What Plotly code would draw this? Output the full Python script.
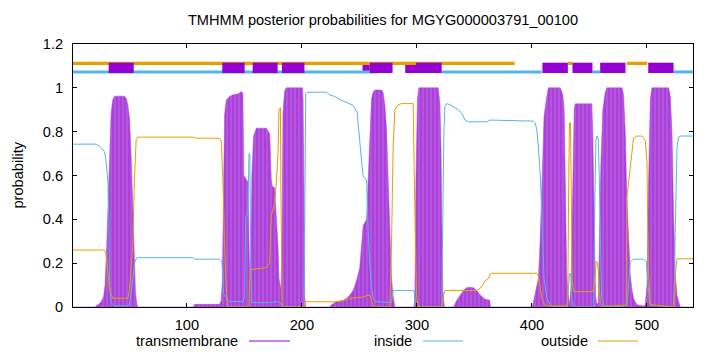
import plotly.graph_objects as go

# ---------------- data ----------------
title_text = "TMHMM posterior probabilities for MGYG000003791_00100"
seq_len = 540

tm_x = [1, 20, 22, 25, 27.5, 28.9, 30.6, 32.1, 33.2, 34.1, 35.6, 37, 45.7, 47.2, 48.6, 50.1, 51.5, 52.9, 54.1, 55.3, 56.5, 57.5,
        105.5, 106.7, 128.4, 129.9, 130.8, 131.3, 131.9, 132.8, 134.3, 137.1, 140, 144.4, 147.3, 148.7, 149.5, 153.1, 154.0, 154.7,
        155.5, 156.5, 158, 160.4, 169.1, 172, 173.4, 174.3, 176.3, 177.8, 179.2, 180.1, 181.8, 182.7, 183.5, 185, 186.5, 200.4,
        201, 201.9, 202.4, 203.3,
        224.2, 225.7, 230, 235.8, 240.2, 244.5, 247.5, 250.3, 253.2, 256.2, 259, 260.5, 261.9, 263.4, 269.2, 270.6, 272.1, 273.6,
        275, 276.4, 277.9, 279.3, 280.8,
        297.5, 298.2, 299.1, 300.5, 301.7, 318.5, 320, 321, 321.6, 322.5, 323.8,
        331.7, 334.6, 337.5, 340.4, 343.3, 346.2, 349.1, 352, 354.9, 359.3, 363.1, 364,
        400.3, 402.4, 405.6, 407.1, 408.5, 409.4, 410.5, 412.9, 414.3, 424.5, 426.8, 428, 428.9, 430.3, 431.7, 432.8, 434, 434.7,
        435.6, 436.7, 437.6, 452.1, 453, 454.2, 455.3, 456.5, 457.6, 458.8, 459.9, 461.6, 463.7, 465.1, 478.2, 479.6, 481.1,
        482.5, 484, 485.4, 486.9, 488.3, 491.2, 497, 498.5, 500, 501.4, 502.9, 504.3, 518.8, 520.3, 521.7, 523.2, 524.6, 526.1,
        527.5, 529, 540]
tm_y = [0, 0, 0.008, 0.02, 0.045, 0.1, 0.32, 0.58, 0.76, 0.885, 0.946, 0.962, 0.962, 0.953, 0.925, 0.86, 0.7, 0.45, 0.2, 0.07, 0.01, 0,
        0, 0.012, 0.012, 0.03, 0.12, 0.3, 0.58, 0.88, 0.945, 0.96, 0.968, 0.972, 0.983, 0.975, 0.6, 0.57, 0.3, 0.13,
        0.25, 0.6, 0.78, 0.816, 0.816, 0.79, 0.58, 0.55, 0.545, 0.41, 0.28, 0.13, 0.08, 0.3, 0.885, 0.985, 1.0, 1.0,
        0.95, 0.5, 0.05, 0,
        0, 0.01, 0.025, 0.03, 0.045, 0.075, 0.12, 0.18, 0.37, 0.40, 0.73, 0.95, 0.98, 0.99, 0.99, 0.98, 0.92, 0.81,
        0.58, 0.3, 0.13, 0.05, 0,
        0, 0.05, 0.58, 0.95, 1.0, 1.0, 0.93, 0.7, 0.4, 0.08, 0,
        0, 0.03, 0.055, 0.075, 0.088, 0.09, 0.088, 0.075, 0.055, 0.035, 0.032, 0,
        0, 0.05, 0.13, 0.3, 0.53, 0.7, 0.87, 0.96, 1.0, 1.0, 0.97, 0.9, 0.58, 0.13, 0.05, 0.01, 0.1, 0.3,
        0.7, 0.9, 0.927, 0.927, 0.75, 0.3, 0.05, 0.01, 0.02, 0.35, 0.65, 0.9, 0.98, 1.0, 1.0, 0.97, 0.8,
        0.5, 0.3, 0.15, 0.08, 0.04, 0.01, 0.005, 0.01, 0.1, 0.58, 0.95, 1.0, 1.0, 0.96, 0.8, 0.4, 0.15, 0.05,
        0.025, 0, 0]

inside_x = [1, 21, 24, 28.3, 29.7, 31.2, 32.1, 32.7, 34.1, 37, 50, 51.5, 52.9, 54.4, 56.4, 105.2, 106.7, 128.4, 130.3, 131.3,
            131.9, 134.3, 137, 147.3, 148.7, 150.2, 151.1, 153.1, 154.0, 154.7, 155.5, 156.5, 172, 179.2, 181, 183, 201.9,
            203.3, 205, 221.3, 224.2, 228.6, 231.5, 235.8, 240.2, 244.5, 248, 248.9, 250.3, 251.8, 253.2, 254.7, 256.2,
            256.7, 257.6, 259, 260.5, 262, 263.4, 277.9, 279.3, 280.8, 297.3, 298.5, 299.7, 321.5, 322.3, 323.5, 324.3,
            325.8, 328.8, 331.7, 336, 338.9, 340.4, 341.8, 344.7, 360.7, 363.6, 401.3, 402.7, 404.2, 405.6, 407.1, 408.5,
            409.4, 410.5, 412.9, 415.8, 418, 430.3, 431.7, 432.6, 433.8, 434.7, 436.2, 453.6, 454.7, 455.6, 456.5, 457.6,
            458.5, 459.4, 460.5, 462.3, 482.5, 484, 485.4, 488.3, 497, 499.4, 500.5, 502.3, 523.2, 524.6, 526.1, 527.5,
            529, 540]
inside_y = [0.743, 0.743, 0.735, 0.709, 0.67, 0.58, 0.43, 0.12, 0.02, 0.005, 0.005, 0.06, 0.12, 0.2, 0.225, 0.225, 0.218, 0.218, 0.21, 0.15,
            0.06, 0.04, 0.025, 0.025, 0.02, 0.05, 0.41, 0.43, 0.7, 0.7, 0.2, 0.02, 0.02, 0.025, 0.02, 0, 0,
            0.976, 0.98, 0.98, 0.968, 0.96, 0.95, 0.94, 0.93, 0.92, 0.89, 0.83, 0.73, 0.67, 0.6, 0.585, 0.58,
            0.475, 0.35, 0.2, 0.09, 0.04, 0.025, 0.02, 0.075, 0.075, 0.075, 0.03, 0, 0, 0.43, 0.81, 0.915,
            0.928, 0.923, 0.913, 0.9, 0.885, 0.87, 0.853, 0.845, 0.845, 0.853, 0.848, 0.84, 0.81, 0.73, 0.61, 0.43,
            0.28, 0.13, 0.04, 0.01, 0, 0, 0.08, 0.154, 0.15, 0.03, 0, 0, 0.5, 0.76, 0.78, 0.77,
            0.6, 0.3, 0.05, 0.005, 0, 0.1, 0.207, 0.218, 0.218, 0.207, 0.13, 0.01, 0, 0.43, 0.73, 0.776,
            0.78, 0.78]

outside_x = [1, 28.3, 29.7, 31.2, 32.7, 35.6, 48.6, 50.1, 52.9, 54.4, 55.9, 57.3, 105.2, 108.1, 128.4, 129.9, 131.3, 132.8,
             134.3, 135.7, 154.0, 154.5, 155.1, 169, 172, 173.4, 176.3, 177.8, 179.2, 180.1, 181.3, 181.8, 182.7, 183.5,
             201.9, 202.6, 230, 237.3, 241.6, 253.2, 257.6, 259.6, 261.3, 262.5, 276.4, 277.9, 279.3, 280.8, 283.7, 286.6,
             296.7, 298.2, 299.7, 301.1, 321.5, 323, 324.3, 352, 354.9, 357.8, 359.3, 362.2, 363.6, 365.1, 404.2, 405.6,
             407.1, 408.5, 411.5, 431.1, 432, 432.6, 433.5, 434.1, 435, 436.2, 453.1, 455.1, 455.9, 457.1, 458.2, 459.4,
             461, 481.9, 482.5, 485.4, 488.3, 491.2, 495.6, 498.5, 500, 500.5, 501.4, 502.9, 523.2, 524.6, 526.1, 540]
outside_y = [0.26, 0.26, 0.245, 0.154, 0.08, 0.04, 0.04, 0.08, 0.275, 0.58, 0.763, 0.775, 0.775, 0.77, 0.77, 0.757, 0.58, 0.275,
             0.06, 0, 0, 0.1, 0.17, 0.18, 0.2, 0.42, 0.47, 0.57, 0.7, 0.9, 0.91, 0.5, 0.02, 0,
             0, 0.024, 0.024, 0.03, 0.04, 0.045, 0.055, 0.05, 0.01, 0, 0, 0.28, 0.73, 0.9, 0.923, 0.928,
             0.928, 0.43, 0.05, 0, 0, 0.05, 0.075, 0.075, 0.085, 0.106, 0.12, 0.13, 0.15, 0.154, 0.154, 0.14,
             0.09, 0.04, 0.005, 0.005, 0.6, 0.84, 0.84, 0.5, 0.12, 0.07, 0.07, 0.15, 0.21, 0.2, 0.08, 0.02,
             0, 0.01, 0.5, 0.64, 0.77, 0.78, 0.78, 0.76, 0.66, 0.43, 0.15, 0.01, 0, 0.15, 0.22, 0.22]

# predicted topology segments (start, end) drawn in the top band
tm_segments_under = [(252.7, 259.0), (289.8, 299.2)]
tm_segments = [(32.0, 53.8), (130.8, 150.2), (157.2, 178.9), (182.7, 202.2), (259.0, 278.8), (299.2, 321.5),
               (409.1, 431.2), (435.2, 452.6), (459.3, 481.3), (501.1, 523.1)]
inside_segments = [(1, 265), (321.5, 408.5), (452.6, 459.3), (523.1, 540)]
outside_segments = [(1, 385), (431.2, 435.2), (482.5, 500)]

y_ticks = [0, 0.2, 0.4, 0.6, 0.8, 1.0, 1.2]
y_tick_text = ["0", "0.2", "0.4", "0.6", "0.8", "1", "1.2"]
x_ticks = [100, 200, 300, 400, 500]
legend_names = ["transmembrane", "inside", "outside"]

# ---------------- styling ----------------
C_TM = "#9400d3"
C_TM_FILL = "#ab40db"
C_IN = "#56b4e9"
C_OUT = "#e69f00"
FONT = "Liberation Sans"
FS = 14.6

fig = go.Figure()
fig.add_trace(go.Scatter(x=tm_x, y=tm_y, mode="lines", line=dict(color=C_TM_FILL, width=0.5),
                         fill="tozeroy", fillcolor=C_TM_FILL,
                         fillpattern=dict(shape="|", bgcolor=C_TM_FILL, fgcolor="#c884ea", size=4, solidity=0.3),
                         name="transmembrane"))
fig.add_trace(go.Scatter(x=inside_x, y=inside_y, mode="lines", line=dict(color=C_IN, width=1), name="inside"))
fig.add_trace(go.Scatter(x=outside_x, y=outside_y, mode="lines", line=dict(color=C_OUT, width=1), name="outside"))

shapes = []
for a, b in tm_segments_under:
    shapes.append(dict(type="rect", xref="x", yref="y", x0=a, x1=b, y0=1.0676, y1=1.1147,
                       fillcolor=C_TM, line=dict(width=0)))
for a, b in inside_segments:
    shapes.append(dict(type="rect", xref="x", yref="y", x0=a, x1=b, y0=1.0658, y1=1.0795,
                       fillcolor=C_IN, line=dict(width=0)))
for a, b in outside_segments:
    shapes.append(dict(type="rect", xref="x", yref="y", x0=a, x1=b, y0=1.1042, y1=1.1192,
                       fillcolor=C_OUT, line=dict(width=0)))
for a, b in tm_segments:
    shapes.append(dict(type="rect", xref="x", yref="y", x0=a, x1=b, y0=1.0676, y1=1.1147,
                       fillcolor=C_TM, line=dict(width=0)))

# manual gnuplot-style key (text, then sample line)
W_PLOT = 620.0
def px(v):
    return (v - 73) / W_PLOT

key_text_right = [240, 414, 590]
key_line = [(249, 290), (423, 463), (598, 638)]
key_colors = [C_TM, C_IN, C_OUT]
key_y = (307 - 341) / 263.0
annotations = []
for name, xr, (l0, l1), col in zip(legend_names, key_text_right, key_line, key_colors):
    annotations.append(dict(text=name, x=px(xr), y=key_y, xref="paper", yref="paper",
                            xanchor="right", yanchor="middle", showarrow=False,
                            font=dict(family=FONT, size=FS, color="black")))
    shapes.append(dict(type="line", xref="paper", yref="paper", x0=px(l0), x1=px(l1), y0=key_y, y1=key_y,
                       line=dict(color=col, width=1)))

annotations.append(dict(text="probability", x=px(17), y=0.5, xref="paper", yref="paper",
                        textangle=-90, showarrow=False, xanchor="center", yanchor="middle",
                        font=dict(family=FONT, size=FS, color="black")))

fig.update_layout(
    width=720, height=352,
    margin=dict(l=73, r=27, t=44, b=45),
    plot_bgcolor="white", paper_bgcolor="white",
    showlegend=False,
    font=dict(family=FONT, size=FS, color="black"),
    title=dict(text=title_text, x=px(383), xanchor="center", y=1 - 20 / 352, yanchor="middle",
               xref="paper", font=dict(family=FONT, size=FS, color="black")),
    shapes=shapes,
    annotations=annotations,
)
fig.update_xaxes(range=[1, seq_len], tickvals=x_ticks, ticks="inside", ticklen=4, tickcolor="black",
                 showline=True, linecolor="black", linewidth=1, mirror="ticks",
                 showgrid=False, zeroline=False, ticklabelstandoff=4)
fig.update_yaxes(range=[0, 1.2], tickvals=y_ticks, ticktext=y_tick_text, ticks="inside", ticklen=4,
                 tickcolor="black", showline=True, linecolor="black", linewidth=1, mirror="ticks",
                 showgrid=False, zeroline=False, ticklabelstandoff=6)

fig.write_html("out.html")
